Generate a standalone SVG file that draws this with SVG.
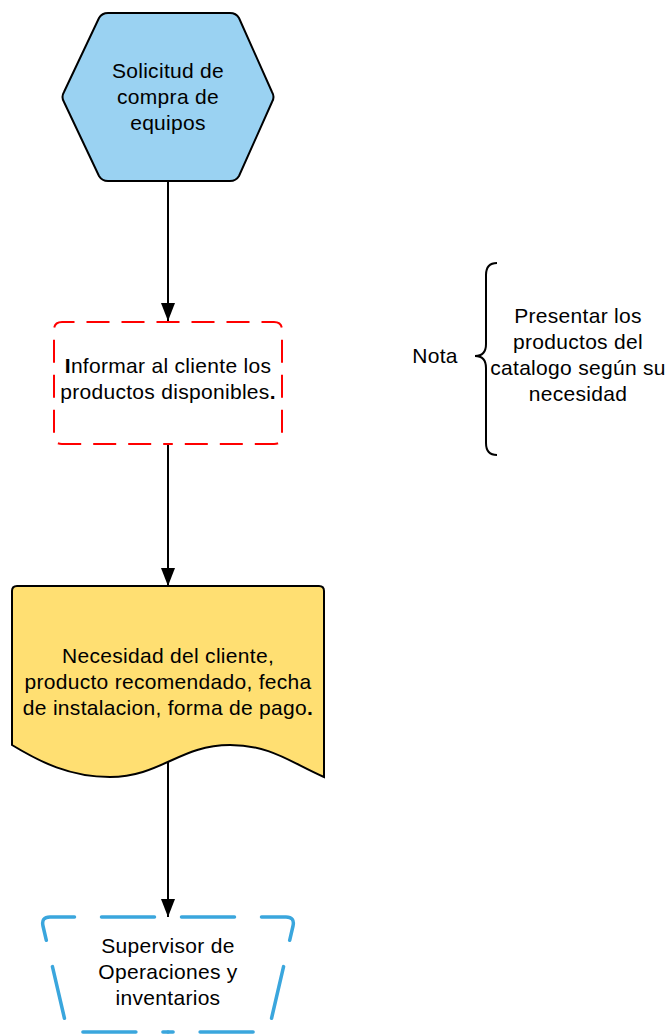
<svg xmlns="http://www.w3.org/2000/svg" width="669" height="1034" viewBox="0 0 669 1034">
<style>
text{font-family:"Liberation Sans",Arial,sans-serif;font-size:21px;letter-spacing:0.3px;fill:#000;text-anchor:middle}
.conn{stroke:#000;stroke-width:2;fill:none}
.red{fill:none;stroke:#ff0000;stroke-width:2;stroke-dasharray:23 12;stroke-dashoffset:11.5}
.blue{fill:none;stroke:#3aa6dd;stroke-width:3.5;stroke-dasharray:53 27;stroke-dashoffset:66.5;stroke-linecap:round}
</style>
<defs>
<marker id="arr" viewBox="0 0 18 14" refX="18" refY="7" markerWidth="18" markerHeight="14" markerUnits="userSpaceOnUse" orient="auto">
<path d="M0,0 L18,7 L0,14 Z" fill="#000"/>
</marker>
</defs>
<rect width="669" height="1034" fill="#fff"/>
<g id="connectors">
<line class="conn" x1="168" y1="181" x2="168" y2="321" marker-end="url(#arr)"/>
<line class="conn" x1="168" y1="445" x2="168" y2="586" marker-end="url(#arr)"/>
<line class="conn" x1="168" y1="762" x2="168" y2="917" marker-end="url(#arr)"/>
</g>
<g id="start">
<path d="M108,13 L230,13 Q236,13 239,18 L272,92 Q275,97 272,102 L239,176 Q236,181 230,181 L108,181 Q102,181 99,176 L64,102 Q61,97 64,92 L99,18 Q102,13 108,13 Z" fill="#9ad2f2" stroke="#000" stroke-width="2"/>
<text x="168" y="78">Solicitud de</text>
<text x="168" y="104">compra de</text>
<text x="168" y="130">equipos</text>
</g>
<g id="inform">
<rect x="54" y="322" width="228" height="122" rx="8" fill="#fff"/>
<path class="red" d="M168,322 L274,322 Q282,322 282,330 L282,436 Q282,444 274,444 L168,444"/>
<path class="red" d="M168,322 L62,322 Q54,322 54,330 L54,436 Q54,444 62,444 L168,444"/>
<text x="168" y="373"><tspan font-weight="bold">I</tspan>nformar al cliente los</text>
<text x="168" y="399">productos disponibles<tspan font-weight="bold">.</tspan></text>
</g>
<g id="document">
<path d="M17,586 L319,586 Q324,586 324,591 L324,777 C290,762 270,745 230,745 C180,745 160,777 110,777 C70,777 40,762 12,745 L12,591 Q12,586 17,586 Z" fill="#ffdf72" stroke="#000" stroke-width="2"/>
<text x="168" y="663">Necesidad del cliente,</text>
<text x="168" y="689">producto recomendado, fecha</text>
<text x="168" y="715">de instalacion, forma de pago<tspan font-weight="bold">.</tspan></text>
</g>
<g id="supervisor">
<path d="M50,917 L286,917 Q295,917 293,926 L270,1025 Q268,1032 261,1032 L75,1032 Q68,1032 66,1025 L43,926 Q41,917 50,917 Z" fill="#fff"/>
<path class="blue" d="M168,917 L286,917 Q295,917 293,926 L270,1025 Q268,1032 261,1032 L168,1032"/>
<path class="blue" d="M168,917 L50,917 Q41,917 43,926 L66,1025 Q68,1032 75,1032 L168,1032"/>
<text x="168" y="953">Supervisor de</text>
<text x="168" y="979">Operaciones y</text>
<text x="168" y="1005">inventarios</text>
</g>
<g id="note">
<text x="435" y="363">Nota</text>
<path d="M497,263 Q486,263 486,275 L486,344 Q486,356 475,356 Q486,356 486,368 L486,443 Q486,455 497,455" fill="none" stroke="#000" stroke-width="2"/>
<text x="578" y="323">Presentar los</text>
<text x="578" y="349">productos del</text>
<text x="578" y="375">catalogo según su</text>
<text x="578" y="401">necesidad</text>
</g>
</svg>
